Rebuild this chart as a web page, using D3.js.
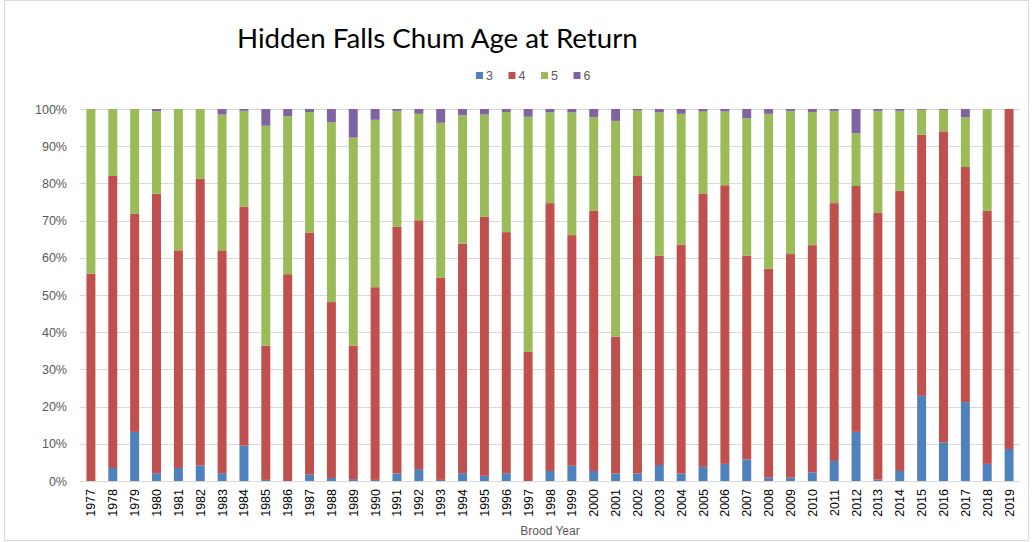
<!DOCTYPE html>
<html>
<head>
<meta charset="utf-8">
<script src="https://cdn.jsdelivr.net/npm/d3@7"></script>
<style>
  body { margin: 0; background: #fff; }
  text { font-family: "Liberation Sans", Arial, sans-serif; fill: #595959; }
  .title { font-family: Lato, "Open Sans", sans-serif; fill: #000; }
</style>
</head>
<body>
<svg id="chart" width="1033" height="542"></svg>
<script>
const YEARS = d3.range(1977, 2020).map(String);
const AGES = ['3', '4', '5', '6'];
const COLORS = ['#4f81bd', '#c0504d', '#9bbb59', '#8064a2'];

// percent of returns by age
const AGE3 = [0, 3.5, 13.2, 2.1, 3.5, 4.2, 2.1, 9.5, 0.3, 0, 1.7, 0.8, 0.5, 0.3, 2.0, 3.2, 0.3, 2.1, 1.4, 2.1, 0,
  2.7, 4.1, 2.7, 2.0, 2.0, 4.3, 2.0, 3.8, 4.6, 5.8, 0.9, 0.9, 2.3, 5.4, 13.2, 0.4, 2.7, 22.9, 10.4, 21.2, 4.6, 8.6];
const AGE4 = [55.7, 78.5, 58.6, 75.1, 58.5, 77.0, 59.9, 64.2, 36.1, 55.6, 65.0, 47.3, 35.9, 51.8, 66.4, 66.9, 54.3, 61.7, 69.6, 64.8, 34.8,
  72.0, 62.0, 69.9, 36.8, 80.0, 56.3, 61.5, 73.5, 74.9, 54.8, 56.2, 60.1, 61.1, 69.3, 66.1, 71.8, 75.3, 70.2, 83.6, 63.2, 68.0, 91.4];
const AGE5 = [44.3, 18.0, 28.2, 22.2, 38.0, 18.8, 36.5, 25.8, 59.1, 42.5, 32.5, 48.3, 55.9, 45.0, 31.1, 28.6, 41.7, 34.5, 27.5, 32.3, 63.1,
  24.4, 33.0, 25.2, 58.0, 17.6, 38.5, 35.2, 22.0, 19.8, 36.9, 41.6, 38.5, 35.8, 24.8, 14.2, 27.3, 21.5, 6.7, 5.8, 13.4, 27.4, 0];
const AGE6 = [0, 0, 0, 0.6, 0, 0, 1.5, 0.5, 4.5, 1.9, 0.8, 3.6, 7.7, 2.9, 0.5, 1.3, 3.7, 1.7, 1.5, 0.8, 2.1,
  0.9, 0.9, 2.2, 3.2, 0.4, 0.9, 1.3, 0.7, 0.7, 2.5, 1.3, 0.5, 0.8, 0.5, 6.5, 0.5, 0.5, 0.2, 0.2, 2.2, 0, 0];
const Y_TICKS = [0, 0.1, 0.2, 0.3, 0.4, 0.5, 0.6, 0.7, 0.8, 0.9, 1];

const rows = YEARS.map((y, i) => ({ year: y, '3': AGE3[i], '4': AGE4[i], '5': AGE5[i], '6': AGE6[i] }));

const svg = d3.select('#chart');
const plotLeft = 80, plotRight = 1020, plotTop = 109, plotBottom = 481;

// chart frame
svg.append('rect')
  .attr('x', 4.5).attr('y', 0.5)
  .attr('width', 1024).attr('height', 540)
  .attr('fill', 'none').attr('stroke', '#d9d9d9');

const x = d3.scaleBand().domain(YEARS).range([plotLeft, plotRight]).paddingInner(0.59).paddingOuter(0.295);
const y = d3.scaleLinear().domain([0, 1]).range([plotBottom, plotTop]);
const color = d3.scaleOrdinal().domain(AGES).range(COLORS);

// gridlines
svg.append('g')
  .selectAll('line')
  .data(Y_TICKS)
  .enter().append('line')
  .attr('x1', plotLeft).attr('x2', plotRight)
  .attr('y1', d => Math.round(y(d)) + 0.5)
  .attr('y2', d => Math.round(y(d)) + 0.5)
  .attr('stroke', '#d9d9d9')
  .attr('stroke-width', 1);

// stacked bars (normalised)
const stack = d3.stack().keys(AGES).offset(d3.stackOffsetExpand);
const series = stack(rows);

svg.append('g')
  .selectAll('g')
  .data(series)
  .enter().append('g')
  .attr('fill', d => color(d.key))
  .selectAll('rect')
  .data(d => d)
  .enter().append('rect')
  .attr('x', d => x(d.data.year))
  .attr('width', x.bandwidth())
  .attr('y', d => y(d[1]))
  .attr('height', d => Math.max(0, y(d[0]) - y(d[1])));

// y labels
svg.append('g')
  .selectAll('text')
  .data(Y_TICKS)
  .enter().append('text')
  .text(d => d3.format('.0%')(d))
  .attr('x', 67)
  .attr('y', d => y(d) + 4.5)
  .attr('text-anchor', 'end')
  .style('font-size', '12.5px');

// x labels (rotated)
svg.append('g')
  .selectAll('text')
  .data(YEARS)
  .enter().append('text')
  .text(d => d)
  .attr('transform', d => `translate(${x(d) + x.bandwidth() / 2 + 4.5},489) rotate(-90)`)
  .attr('text-anchor', 'end')
  .style('font-size', '12.5px')
  .style('fill', '#000');

// axis title
svg.append('text')
  .text('Brood Year')
  .attr('x', (plotLeft + plotRight) / 2)
  .attr('y', 535)
  .attr('text-anchor', 'middle')
  .style('font-size', '12px');

// title
svg.append('text')
  .attr('class', 'title')
  .text('Hidden Falls Chum Age at Return')
  .attr('x', 237)
  .attr('y', 48)
  .style('font-size', '27.7px');

// legend
const legend = svg.append('g')
  .selectAll('g')
  .data(AGES)
  .enter().append('g')
  .attr('transform', (d, i) => `translate(${476 + i * 32.5},72)`);
legend.append('rect')
  .attr('width', 7).attr('height', 7)
  .attr('fill', d => color(d));
legend.append('text')
  .text(d => d)
  .attr('x', 10).attr('y', 8)
  .style('font-size', '12.5px');
</script>
</body>
</html>
